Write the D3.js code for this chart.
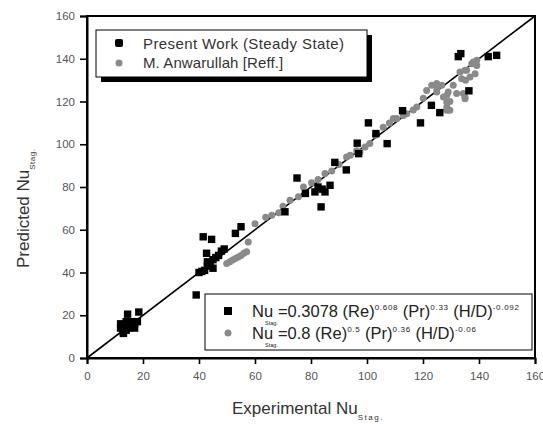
<!DOCTYPE html>
<html><head><meta charset="utf-8">
<script src="https://cdn.jsdelivr.net/npm/d3@7"></script>
<style>body{margin:0;background:#fff;} svg{display:block;font-family:"Liberation Sans",Arial,sans-serif;}</style>
</head><body>
<svg id="c" width="543" height="424"></svg>
<script>
const xTicks = [0,20,40,60,80,100,120,140,160];
const yTicks = [0,20,40,60,80,100,120,140,160];
const presentX = [12,12,13,13,14,14,14.5,15,15,16,16,17,17,18,18.5,13,
  39,40,41,42,43,43,44,45,45,46,47,48,49,42.7,41.5,44.5,53,55,
  70.7,75,78,81.4,82.5,83.6,84,85,86.8,88.5,92.6,96.5,97,100.5,103.2,107.2,112.7,119.1,123,126,132.6,133.5,136.4,143.3,146.3];
const presentY = [14,16,12,15,13,17,20.5,14,16,15,17,14,16,17,21.5,11.5,
  29.5,40,40.5,41,43,45,44,42,46,47,48,50,51,49,56.7,55.5,58.3,61.4,
  68.4,84.2,77,77.7,80,70.7,79,77.7,80.8,91.5,88,100.5,95.6,110,105,100.3,115.7,110,118.2,114.8,141,142.4,125,141,141.6];
const anwarX = [49.9,51,52,53,54,55,56,57,57.6,60,63.8,66,68.5,70,72.5,75.5,77.3,80.2,82.5,85,87.4,90,92.7,94,96.3,97.5,99.3,101,103,105.8,108,109.4,110.6,113,114.2,116.5,117.8,120.1,121.3,123.1,124.9,126.7,124.9,125,127.3,128.5,128.5,128.5,129.6,129.6,128.5,129,130.8,132,134.4,135,135,133.2,133.8,135.2,135.6,136.8,137.4,138,138.6,139.2,139.2,135];
const anwarY = [44.2,45,45.8,46.5,47.3,48,49,49.7,54.3,62.8,65.8,66.8,68,71,73.8,75.4,80,82,83.5,86.3,87.5,90.5,94,94.9,97,96.4,98.7,100.3,104.2,108,110,112,112,113.5,114.3,116,117.4,121.5,125.2,127.6,128.4,127.6,124.4,126,122.1,119.6,117.4,115.9,115.9,120,122.9,124.4,127.6,123.7,123.7,121.3,122,133.8,130.7,130,134.6,131.5,137.7,138.5,133,136.9,139.3,134.6];
const legendTop = ["Present Work (Steady State)", "M. Anwarullah [Reff.]"];

const svg = d3.select("#c");
const L=87, R=535, T=16, B=358;
const x = d3.scaleLinear().domain([0,160]).range([L,R]);
const y = d3.scaleLinear().domain([0,160]).range([B,T]);

// frame
svg.append("rect").attr("x",L).attr("y",T).attr("width",R-L).attr("height",B-T)
  .attr("fill","none").attr("stroke","#000").attr("stroke-width",2);

const xa = svg.append("g").attr("transform",`translate(0,${B})`)
  .call(d3.axisBottom(x).tickValues(xTicks).tickSize(6).tickPadding(8).tickFormat(d3.format("d")));
const ya = svg.append("g").attr("transform",`translate(${L},0)`)
  .call(d3.axisLeft(y).tickValues(yTicks).tickSize(7).tickPadding(5).tickFormat(d3.format("d")));
[xa,ya].forEach(a=>{
  a.select(".domain").attr("stroke-width",2);
  a.selectAll(".tick line").attr("stroke-width",1.6);
  a.selectAll(".tick text").attr("font-size",11.5).attr("fill","#555").attr("font-family","Liberation Sans, Arial, sans-serif");
});

// diagonal line
svg.append("line").attr("x1",x(0)).attr("y1",y(0)).attr("x2",x(160)).attr("y2",y(160))
  .attr("stroke","#000").attr("stroke-width",1.6);

// gray circles
svg.append("g").selectAll("circle").data(anwarX.map((v,i)=>[v,anwarY[i]])).join("circle")
  .attr("cx",d=>x(d[0])).attr("cy",d=>y(d[1])).attr("r",3.5).attr("fill","#8a8a8a");
// black squares
svg.append("g").selectAll("rect").data(presentX.map((v,i)=>[v,presentY[i]])).join("rect")
  .attr("x",d=>x(d[0])-3.7).attr("y",d=>y(d[1])-3.7).attr("width",7.4).attr("height",7.4).attr("fill","#000");

// top legend
svg.append("rect").attr("x",101).attr("y",35).attr("width",271).attr("height",47).attr("fill","#000");
svg.append("rect").attr("x",96).attr("y",30).attr("width",271).attr("height",47).attr("fill","#fff").attr("stroke","#000").attr("stroke-width",1);
svg.append("rect").attr("x",115).attr("y",39).attr("width",8).attr("height",8).attr("rx",2).attr("fill","#000");
svg.append("circle").attr("cx",119).attr("cy",63).attr("r",3.5).attr("fill","#8a8a8a");
legendTop.forEach((t,i)=>{
  svg.append("text").attr("x",143).attr("y",49+i*19).attr("font-size",15).attr("fill","#333")
    .attr("letter-spacing",i===0?0.4:0.1).text(t);
});

// bottom legend
svg.append("rect").attr("x",205).attr("y",294).attr("width",327).attr("height",56).attr("fill","#fff").attr("stroke","#000").attr("stroke-width",1);
svg.append("rect").attr("x",224).attr("y",307).attr("width",8).attr("height",8).attr("fill","#000");
svg.append("circle").attr("cx",228).attr("cy",333).attr("r",3.5).attr("fill","#8a8a8a");

function eq(yb, parts){
  const t = svg.append("text").attr("x",252).attr("y",yb).attr("font-size",16.5).attr("fill","#222");
  parts.forEach(p=>{
    const s = t.append("tspan").text(p.t);
    if(p.sub){ s.attr("font-size",5.5).attr("dy",8).attr("dx",-8); }
    else if(p.sup){ s.attr("font-size",8).attr("dy", -7).attr("letter-spacing",0.7); }
    else if(p.prev==="sub"){ s.attr("dy",-8).attr("dx",0); }
    else if(p.prev==="sup"){ s.attr("dy",7); }
  });
}
eq(317,[{t:"Nu"},{t:"Stag.",sub:true},{t:"=0.3078 (Re)",prev:"sub"},{t:"0.608",sup:true},{t:" (Pr)",prev:"sup"},{t:"0.33",sup:true},{t:" (H/D)",prev:"sup"},{t:"-0.092",sup:true}]);
eq(339,[{t:"Nu"},{t:"Stag.",sub:true},{t:"=0.8 (Re)",prev:"sub"},{t:"0.5",sup:true},{t:" (Pr)",prev:"sup"},{t:"0.36",sup:true},{t:" (H/D)",prev:"sup"},{t:"-0.06",sup:true}]);

// axis titles
const xt = svg.append("text").attr("x",232).attr("y",414).attr("font-size",17).attr("fill","#333");
xt.append("tspan").text("Experimental Nu");
xt.append("tspan").text("Stag.").attr("font-size",8).attr("dy",6).attr("letter-spacing",1.5);

const yt = svg.append("text").attr("transform","translate(29,268) rotate(-90)").attr("font-size",17).attr("fill","#333");
yt.append("tspan").text("Predicted Nu");
yt.append("tspan").text("Stag.").attr("font-size",8).attr("dy",6).attr("letter-spacing",0.5);
</script>
</body></html>
